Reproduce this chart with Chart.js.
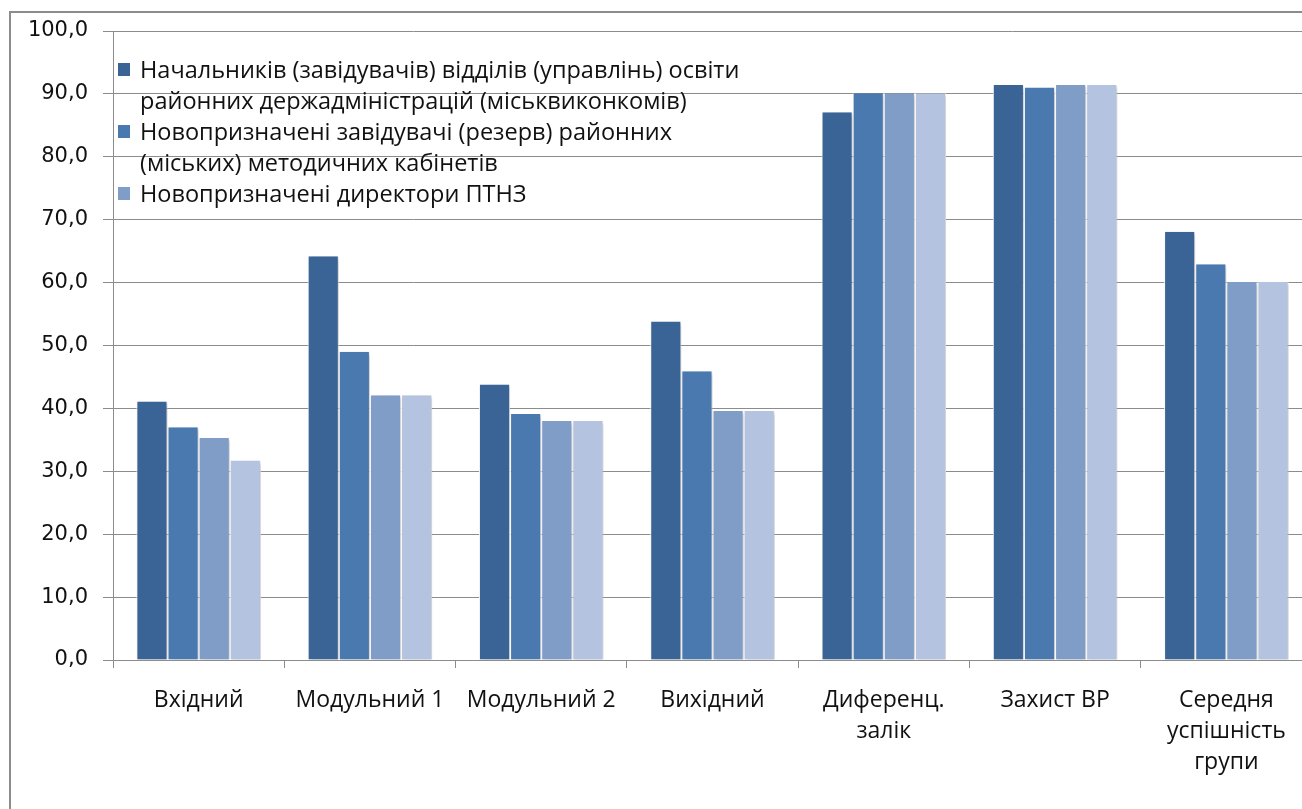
<!DOCTYPE html>
<html>
<head>
<meta charset="utf-8">
<script src="https://cdn.jsdelivr.net/npm/chart.js@4.4.0/dist/chart.umd.min.js"></script>
<style>
  html, body { margin: 0; padding: 0; background: #fff; overflow: hidden; }
  #wrap { position: relative; width: 1340px; height: 809px; }
  #frame { position: absolute; left: 9px; top: 11px; width: 1400px; height: 900px;
           border: 2px solid #8c8c8c; box-sizing: border-box; }
  #chart { position: absolute; left: 0; top: 0; }
  #legend { position: absolute; left: 118px; top: 54px; font-family: "Open Sans", sans-serif;
            font-size: 23.5px; line-height: 31px; color: #111; }
  #legend .item { display: flex; align-items: flex-start; }
  #legend .box { width: 12px; height: 13px; margin-top: 9px; margin-right: 10px; flex: none; }
</style>
</head>
<body>
<div id="wrap">
  <div id="frame"></div>
  <canvas id="chart" width="1340" height="809"></canvas>
  <div id="legend"></div>
</div>
<script>
const categories = [
  'Вхідний',
  'Модульний 1',
  'Модульний 2',
  'Вихідний',
  ['Диференц.', 'залік'],
  'Захист ВР',
  ['Середня', 'успішність', 'групи']
];

// назви серій по рядках, як у легенді
const seriesNames = [
  ['Начальників (завідувачів) відділів (управлінь) освіти', 'районних держадміністрацій (міськвиконкомів)'],
  ['Новопризначені завідувачі (резерв) районних', '(міських) методичних кабінетів'],
  ['Новопризначені директори ПТНЗ'],
  [] // четверта серія без підпису в легенді
];

const series1 = [41.1, 64.2, 43.8, 53.8, 87.1, 91.4, 68.1];
const series2 = [37.0, 49.0, 39.1, 45.9, 90.1, 91.0, 62.9];
const series3 = [35.3, 42.1, 38.0, 39.6, 90.1, 91.4, 60.1];
const series4 = [31.7, 42.1, 38.0, 39.6, 90.1, 91.4, 60.1];

const colors = ['#3b6496', '#4a79b0', '#809dc8', '#b4c3df'];
const yTicks = [0, 10, 20, 30, 40, 50, 60, 70, 80, 90, 100];

const allSeries = [series1, series2, series3, series4];

const shadowPlugin = {
  id: 'barShadow',
  beforeDatasetsDraw(chart) {
    const ctx = chart.ctx;
    ctx.save();
    ctx.shadowColor = 'rgba(0,0,0,0.22)';
    ctx.shadowBlur = 4;
    ctx.shadowOffsetX = 2;
    ctx.shadowOffsetY = 2;
  },
  afterDatasetsDraw(chart) {
    chart.ctx.restore();
  }
};

const ctx = document.getElementById('chart').getContext('2d');

const chart = new Chart(ctx, {
  type: 'bar',
  data: {
    labels: categories,
    datasets: allSeries.map((values, i) => ({
      label: seriesNames[i].join(' '),
      data: values,
      backgroundColor: colors[i],
      borderColor: '#ffffff',
      borderWidth: { left: 1, right: 1, top: 0, bottom: 0 },
      categoryPercentage: 0.727,
      barPercentage: 1.0
    }))
  },
  plugins: [shadowPlugin],
  options: {
    responsive: false,
    devicePixelRatio: 1,
    animation: false,
    layout: { padding: { top: 31, right: 28, left: 0, bottom: 0 } },
    scales: {
      x: {
        afterFit(scale) { scale.height = 149; },
        grid: {
          drawOnChartArea: false,
          offset: true,
          tickLength: 8,
          color: '#8c8c8c'
        },
        border: { color: '#8c8c8c' },
        ticks: {
          color: '#111',
          padding: 17,
          maxRotation: 0,
          autoSkip: false,
          font: { family: 'Open Sans', size: 23, lineHeight: '31px' }
        }
      },
      y: {
        min: 0,
        max: 100,
        afterFit(scale) { scale.width = 113; },
        afterBuildTicks(scale) { scale.ticks = yTicks.map(v => ({ value: v })); },
        grid: {
          color: '#8c8c8c',
          tickLength: 10
        },
        border: { color: '#8c8c8c' },
        ticks: {
          color: '#111',
          padding: 15,
          font: { family: 'DejaVu Sans', size: 21 },
          callback: v => v.toFixed(1).replace('.', ',')
        }
      }
    },
    plugins: {
      legend: { display: false },
      tooltip: { enabled: false }
    }
  }
});

// легенда поверх області графіка (лише серії з підписом)
const legend = document.getElementById('legend');
seriesNames.forEach((lines, i) => {
  if (!lines.length) return;
  const item = document.createElement('div');
  item.className = 'item';
  const box = document.createElement('span');
  box.className = 'box';
  box.style.background = colors[i];
  const text = document.createElement('span');
  text.innerHTML = lines.join('<br>');
  item.appendChild(box);
  item.appendChild(text);
  legend.appendChild(item);
});
</script>
</body>
</html>
